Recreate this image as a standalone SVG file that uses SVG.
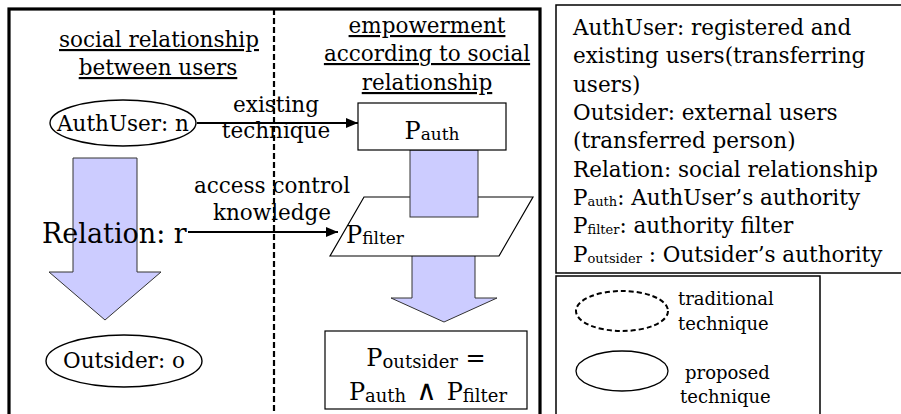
<svg xmlns="http://www.w3.org/2000/svg" width="901" height="414" viewBox="0 0 901 414">
<defs>
<style>
text{font-family:"DejaVu Serif","Liberation Serif",serif;fill:#000}
.t{font-size:21.5px}
.h{font-size:21.5px;text-anchor:middle;text-decoration:underline}
.c{text-anchor:middle}
.big{font-size:27px}
.p{font-size:24px}
.s{font-size:17px}
.s2{font-size:18px}
.and{font-size:28px}
.ls{font-size:13px}
.sm{font-size:18px}
.box{fill:#fff;stroke:#000;stroke-width:1.2}
.arr{fill:#ccccff;stroke:#333;stroke-width:1}
.con{stroke:#000;stroke-width:2.2;fill:none}
</style>
<marker id="ah" viewBox="0 0 12 10" refX="12" refY="5" markerWidth="12" markerHeight="10" markerUnits="userSpaceOnUse" orient="auto">
<path d="M0,0 L12,5 L0,10 z" fill="#000"/>
</marker>
</defs>
<rect width="901" height="414" fill="#fff"/>
<g id="panel-left">
<rect x="9" y="9" width="531" height="420" fill="none" stroke="#000" stroke-width="3.2"/>
<line x1="274" y1="9" x2="274" y2="414" stroke="#000" stroke-width="2.2" stroke-dasharray="6,3"/>
</g>
<g id="headings">
<text class="h" x="159" y="47">social relationship</text>
<text class="h" x="158" y="75">between users</text>
<text class="h" x="427" y="33">empowerment</text>
<text class="h" x="427" y="61">according to social</text>
<text class="h" x="427" y="90">relationship</text>
</g>
<g id="relation-arrow">
<polygon class="arr" points="73,158 137,158 137,272 161,272 105,320 49,272 73,272"/>
</g>
<g id="authuser">
<ellipse cx="123" cy="123" rx="73" ry="23" fill="#fff" stroke="#000" stroke-width="1.4"/>
<text class="t c" x="123" y="131">AuthUser: n</text>
</g>
<g id="relation">
<text class="big" x="42" y="243">Relation: r</text>
</g>
<g id="outsider">
<ellipse cx="124" cy="361" rx="78" ry="26" fill="#fff" stroke="#000" stroke-width="1.4"/>
<text class="t c" x="124" y="368">Outsider: o</text>
</g>
<g id="flow-arrow">
<polygon class="arr" points="412,250 475,250 475,298 497,298 444,322 391,298 412,298"/>
</g>
<g id="pfilter">
<polygon class="box" points="364,197 533,197 499,256 330,256"/>
<text x="346" y="243"><tspan class="p">P</tspan><tspan class="s" dy="1">filter</tspan></text>
</g>
<g id="auth-link">
<rect class="arr" x="410" y="150" width="68" height="67"/>
</g>
<g id="pauth">
<rect class="box" x="358" y="103" width="148" height="47"/>
<text class="c" x="432" y="139"><tspan class="p">P</tspan><tspan class="s" dy="1">auth</tspan></text>
</g>
<g id="poutsider">
<rect class="box" x="325" y="331" width="202" height="78"/>
<text class="c" x="426" y="366"><tspan class="p">P</tspan><tspan class="s2" dy="2">outsider</tspan><tspan class="p" dy="-2"> =</tspan></text>
<text class="c" x="428" y="400"><tspan class="p">P</tspan><tspan class="s2" dy="2">auth</tspan><tspan class="and" dy="-2" dx="10">∧</tspan><tspan class="p" dx="10">P</tspan><tspan class="s2" dy="2">filter</tspan></text>
</g>
<g id="connectors">
<line class="con" x1="197" y1="123" x2="358" y2="123" marker-end="url(#ah)"/>
<line class="con" x1="188" y1="232" x2="338" y2="232" marker-end="url(#ah)"/>
<text class="t c" x="276" y="112">existing</text>
<text class="t c" x="276" y="138">technique</text>
<text class="t c" x="272" y="193">access control</text>
<text class="t c" x="272" y="220">knowledge</text>
</g>
<g id="legend">
<rect x="556" y="5" width="350" height="268" fill="#fff" stroke="#000" stroke-width="1.5"/>
<text class="t" x="573" y="35">AuthUser: registered and</text>
<text class="t" x="573" y="63.3">existing users(transferring</text>
<text class="t" x="573" y="91.6">users)</text>
<text class="t" x="573" y="120">Outsider: external users</text>
<text class="t" x="573" y="148.3">(transferred person)</text>
<text class="t" x="573" y="176.6">Relation: social relationship</text>
<text class="t" x="573" y="205"><tspan>P</tspan><tspan class="ls" dy="1">auth</tspan><tspan dy="-1">: AuthUser’s authority</tspan></text>
<text class="t" x="573" y="233.3"><tspan>P</tspan><tspan class="ls" dy="1">filter</tspan><tspan dy="-1">: authority filter</tspan></text>
<text class="t" x="573" y="261.6"><tspan>P</tspan><tspan class="ls" dy="1">outsider</tspan><tspan dy="-1"> : Outsider’s authority</tspan></text>
</g>
<g id="legend-styles">
<rect x="556" y="276" width="264" height="150" fill="#fff" stroke="#000" stroke-width="1.5"/>
<ellipse cx="622" cy="311" rx="46" ry="20" fill="none" stroke="#000" stroke-width="2" stroke-dasharray="5,3"/>
<text class="sm" x="678" y="305">traditional</text>
<text class="sm" x="678" y="330">technique</text>
<ellipse cx="622" cy="371" rx="46" ry="20" fill="none" stroke="#000" stroke-width="1.3"/>
<text class="sm" x="685" y="379">proposed</text>
<text class="sm" x="680" y="403">technique</text>
</g>
</svg>
